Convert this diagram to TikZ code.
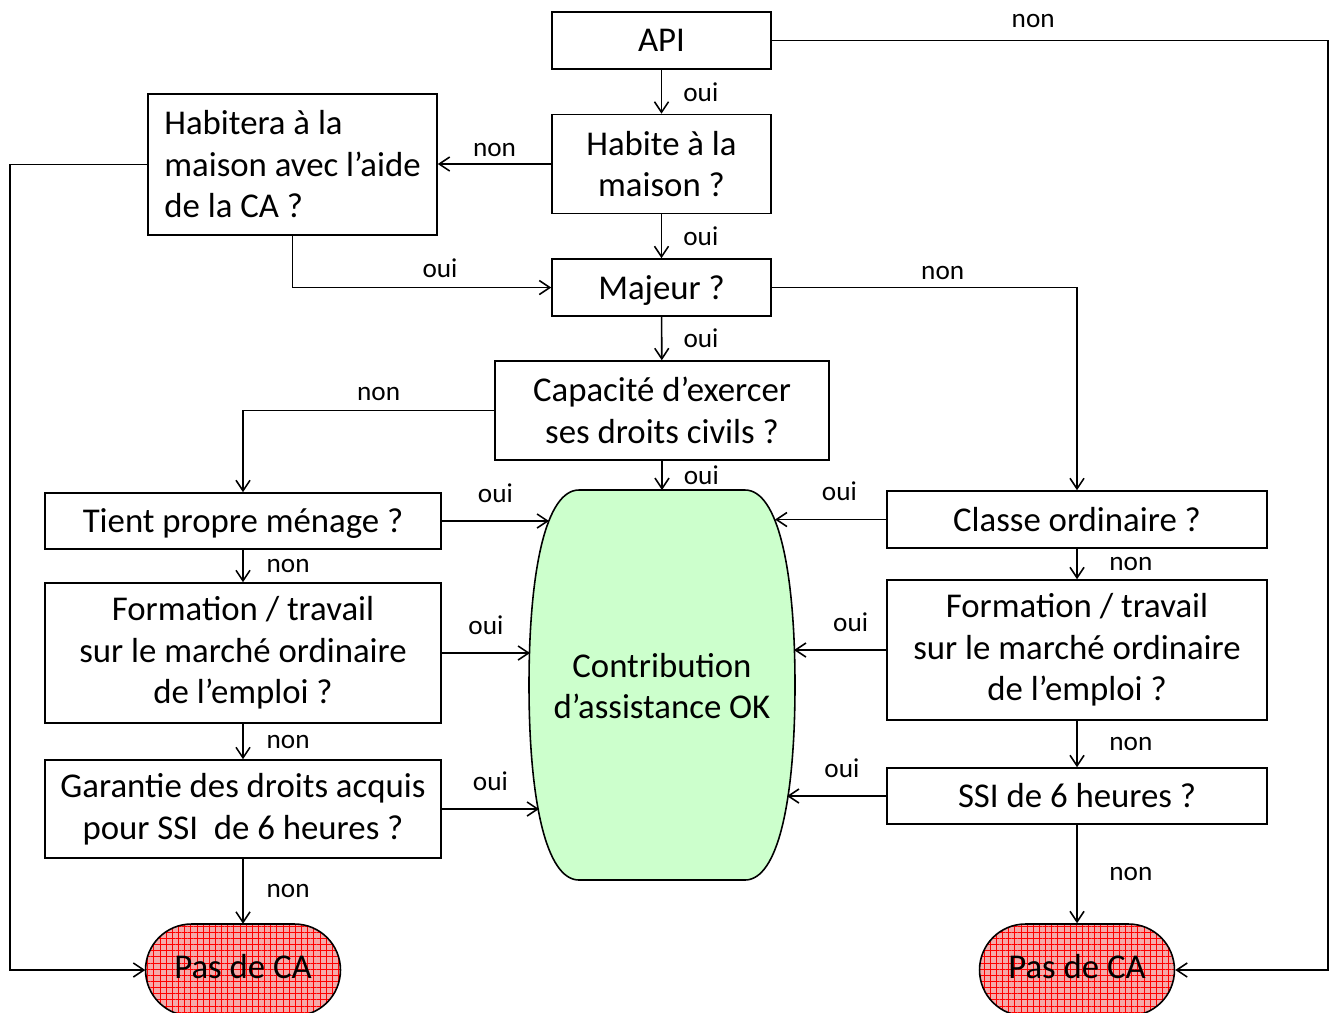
\documentclass[tikz,border=0pt]{standalone}
\usepackage{fontspec}
\setmainfont{Carlito}
\usetikzlibrary{arrows.meta,shapes.misc,patterns.meta}

\definecolor{okgreen}{RGB}{204,255,204}
\definecolor{nogo}{RGB}{245,170,170}

\begin{document}
\begin{tikzpicture}[x=0.02cm, y=-0.02cm,
    box/.style={draw, line width=0.9pt, inner sep=0pt, align=center,
        font=\fontsize{19.8}{23.6}\selectfont},
    stopbox/.style={rounded rectangle, draw, line width=0.9pt, inner sep=0pt,
        minimum width=3.9cm, minimum height=1.84cm,
        preaction={fill=nogo}, pattern={Hatch[distance=3.5pt, line width=0.3pt]},
        pattern color=red, font=\fontsize{19.8}{23.6}\selectfont},
    lbl/.style={font=\fontsize{15.5}{17}\selectfont, inner sep=2pt},
    arr/.style={line width=0.9pt, -{Straight Barb[length=6pt, width=8pt]}}]

    \useasboundingbox (0,0) rectangle (1332,1012);

    % questions
    \node[box, minimum width=4.38cm, minimum height=1.14cm] (api) at (661.5,40.5) {API};
    \node[box, minimum width=4.38cm, minimum height=1.98cm] (habite) at (661.5,164) {Habite à la\\maison ?};
    \node[box, minimum width=5.78cm, minimum height=2.82cm, align=left] (habitera) at (292.5,164.5)
        {Habitera à la\\maison avec l’aide\\de la CA ?};
    \node[box, minimum width=4.38cm, minimum height=1.14cm, text depth=0pt] (majeur) at (661.5,287.5) {Majeur ?};
    \node[box, minimum width=6.68cm, minimum height=1.98cm] (capacite) at (662,410.5)
        {Capacité d’exercer\\ses droits civils ?};
    \node[box, minimum width=7.92cm, minimum height=1.12cm, text depth=0pt] (tient) at (243,521) {Tient propre ménage ?};
    \node[box, minimum width=7.92cm, minimum height=2.8cm] (formL) at (243,653)
        {Formation / travail\\sur le marché ordinaire\\de l’emploi ?};
    \node[box, minimum width=7.92cm, minimum height=1.96cm] (garantie) at (243,809)
        {Garantie des droits acquis\\pour SSI~ de 6 heures ?};
    \node[box, minimum width=7.6cm, minimum height=1.14cm] (classe) at (1077,519.5) {Classe ordinaire ?};
    \node[box, minimum width=7.6cm, minimum height=2.8cm] (formR) at (1077,650)
        {Formation / travail\\sur le marché ordinaire\\de l’emploi ?};
    \node[box, minimum width=7.6cm, minimum height=1.12cm] (ssi) at (1077,796) {SSI de 6 heures ?};

    % results
    \draw[line width=0.9pt, fill=okgreen] (579,490) -- (745,490)
        .. controls (778,490) and (795,570) .. (795,685)
        .. controls (795,800) and (778,880) .. (745,880) -- (579,880)
        .. controls (546,880) and (529,800) .. (529,685)
        .. controls (529,570) and (546,490) .. (579,490) -- cycle;
    \node[font=\fontsize{19.8}{23.6}\selectfont, align=center] (contrib) at (662,686)
        {Contribution\\d’assistance OK};
    \node[stopbox, text depth=0pt, text height=10pt] (pasL) at (243,970) {Pas de CA};
    \node[stopbox, text depth=0pt, text height=10pt] (pasR) at (1077,970) {Pas de CA};

    \coordinate (cTop) at (662,490);
    \coordinate (cL1) at (549,521);
    \coordinate (cL2) at (530,653);
    \coordinate (cL3) at (539,809);
    \coordinate (cR1) at (775,519.5);
    \coordinate (cR2) at (794,650);
    \coordinate (cR3) at (787,796);

    % middle column
    \draw[arr] (api) -- node[lbl, right=10pt] {oui} (habite);
    \draw[arr] (habite) -- node[lbl, right=10pt] {oui} (majeur);
    \draw[arr] (majeur) -- node[lbl, right=10pt] {oui} (capacite);
    \draw[arr] (capacite) -- node[lbl, right=10pt] {oui} (cTop);
    \draw[arr] (api.east) -- node[lbl, above=5pt, pos=0.47] {non} (1328,40.5) |- (pasR.east);
    \draw[arr] (habite.west) -- node[lbl, above=2pt] {non} (habite.west -| habitera.east);
    \draw[arr] (habitera.west) -- (10,164.5) |- (pasL.west);
    \draw[arr] (habitera.south) |- node[lbl, above=3pt, pos=0.785] {oui} (majeur.west);
    \draw[arr] (majeur.east) -| node[lbl, above=2pt, pos=0.28] {non} (classe.north);
    \draw[arr] (capacite.west) -| node[lbl, above=3pt, pos=0.23] {non} (tient.north);

    % left column
    \draw[arr] (tient) -- node[lbl, right=11pt] {non} (formL);
    \draw[arr] (formL) -- node[lbl, right=11pt] {non} (garantie);
    \draw[arr] (garantie) -- node[lbl, right=11pt] {non} (pasL);
    \draw[arr] (tient.east) -- node[lbl, above=8pt] {oui} (cL1);
    \draw[arr] (formL.east) -- node[lbl, above=8pt] {oui} (cL2);
    \draw[arr] (garantie.east) -- node[lbl, above=8pt] {oui} (cL3);

    % right column
    \draw[arr] (classe) -- node[lbl, right=16pt] {non} (formR);
    \draw[arr] (formR) -- node[lbl, right=16pt] {non} (ssi);
    \draw[arr] (ssi) -- node[lbl, right=16pt] {non} (pasR);
    \draw[arr] (classe.west) -- node[lbl, above=8pt, xshift=5pt] {oui} (cR1);
    \draw[arr] (formR.west) -- node[lbl, above=8pt, xshift=6pt] {oui} (cR2);
    \draw[arr] (ssi.west) -- node[lbl, above=8pt, xshift=3pt] {oui} (cR3);

\end{tikzpicture}
\end{document}
